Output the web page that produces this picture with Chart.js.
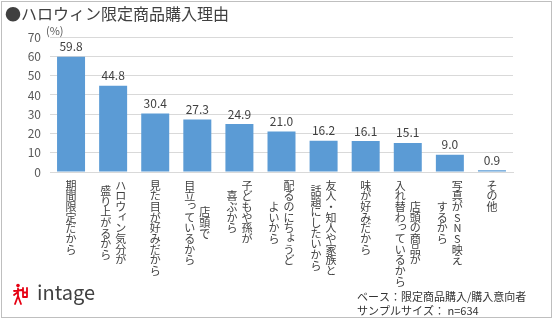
<!DOCTYPE html>
<html><head><meta charset="utf-8">
<script src="https://cdn.jsdelivr.net/npm/chart.js@4/dist/chart.umd.min.js"></script>
<style>html,body{margin:0;padding:0;background:#fff}#wrap{width:555px;height:321px;position:relative}</style>
</head><body><div id="wrap"><canvas id="c" width="555" height="321"></canvas></div>
<script>
const chartTitle = "●ハロウィン限定商品購入理由";
const categories = ["期間限定だから","ハロウィン気分が盛り上がるから","見た目が好みだから","店頭で目立っているから","子どもや孫が喜ぶから","配るのにちょうどよいから","友人・知人や家族と話題にしたいから","味が好みだから","店頭の商品が入れ替わっているから","写真がSNS映えするから","その他"];
const labelColumns = [
 ["期間限定だから"],
 ["ハロウィン気分が","盛り上がるから"],
 ["見た目が好みだから"],
 ["店頭で","目立っているから"],
 ["子どもや孫が","喜ぶから"],
 ["配るのにちょうど","よいから"],
 ["友人・知人や家族と","話題にしたいから"],
 ["味が好みだから"],
 ["店頭の商品が","入れ替わっているから"],
 ["写真がSNS映え","するから"],
 ["その他"]
];
const values = [59.8,44.8,30.4,27.3,24.9,21.0,16.2,16.1,15.1,9.0,0.9];
const yTicks = [0,10,20,30,40,50,60,70];
const unitLabel = "(%)";
const brandName = "intage";
const noteLines = ["ベース：限定商品購入/購入意向者","サンプルサイズ： n=634"];

const FONT = "'Noto Sans CJK JP','Noto Sans',sans-serif";
const smallKana = "ァィゥェォッャュョぁぃぅぇぉっゃゅょ";

const extras = {
  id:'extras',
  beforeDraw(chart){
    const ctx = chart.ctx;
    ctx.save();
    ctx.strokeStyle = '#bfbfbf';
    ctx.lineWidth = 1;
    ctx.strokeRect(1.5,1.5,550,316);
    ctx.restore();
  },
  afterDatasetsDraw(chart){
    const ctx = chart.ctx;
    const x = chart.scales.x, y = chart.scales.y;
    const meta = chart.getDatasetMeta(0);
    ctx.save();
    // data labels
    ctx.fillStyle = '#404040';
    ctx.font = "12px " + FONT;
    ctx.textAlign = 'center';
    ctx.textBaseline = 'bottom';
    meta.data.forEach((bar,i)=>{
      ctx.fillText(values[i].toFixed(1), bar.x, bar.y - 4);
    });
    // unit label
    ctx.font = "11px " + FONT;
    ctx.fillStyle = '#595959';
    ctx.textAlign = 'left';
    ctx.textBaseline = 'middle';
    ctx.fillText(unitLabel, chart.chartArea.left - 4, y.getPixelForValue(70) - 6);
    // vertical category labels
    ctx.font = "11px " + FONT;
    ctx.fillStyle = '#404040';
    ctx.textAlign = 'center';
    ctx.textBaseline = 'middle';
    const pitch = 10.7, colGap = 15;
    const y0 = chart.chartArea.bottom + 8;
    labelColumns.forEach((cols,i)=>{
      const cx = x.getPixelForValue(i);
      const n = cols.length;
      const L = Math.max(...cols.map(c=>[...c].length));
      cols.forEach((col,j)=>{
        const chars = [...col];
        const colX = cx + ((n-1)/2 - j)*colGap;
        const start = y0 + (L - chars.length)*pitch/2;
        chars.forEach((ch,k)=>{
          let dx = 0, dy = 0;
          if (smallKana.includes(ch)) { dx = 2; dy = -2; }
          ctx.fillText(ch, colX + dx, start + (k+0.5)*pitch + dy);
        });
      });
    });
    // logo mark
    ctx.strokeStyle = '#e60012';
    ctx.fillStyle = '#e60012';
    ctx.lineWidth = 1.8;
    ctx.lineCap = 'round';
    ctx.beginPath();
    ctx.arc(18, 285.5, 1.8, 0, Math.PI*2);
    ctx.fill();
    ctx.beginPath();
    ctx.moveTo(14,291); ctx.lineTo(22,290);
    ctx.moveTo(18,288.5); ctx.lineTo(18,296);
    ctx.moveTo(18,296); ctx.lineTo(15,304);
    ctx.moveTo(18,296); ctx.lineTo(21,304);
    ctx.moveTo(14,295); ctx.lineTo(18,292);
    ctx.moveTo(23,288); ctx.lineTo(23,297);
    ctx.moveTo(27,288); ctx.lineTo(27,297);
    ctx.moveTo(23,297); ctx.lineTo(27,297);
    ctx.moveTo(23,292.5); ctx.lineTo(27,292.5);
    ctx.stroke();
    ctx.fillStyle = '#404040';
    ctx.font = "20px " + FONT;
    ctx.textAlign = 'left';
    ctx.textBaseline = 'alphabetic';
    ctx.fillText(brandName, 37, 300);
    // notes
    ctx.font = "11px " + FONT;
    ctx.fillStyle = '#333333';
    ctx.textBaseline = 'middle';
    ctx.fillText(noteLines[0], 357, 297);
    ctx.fillText(noteLines[1], 357, 311);
    ctx.restore();
  }
};

new Chart(document.getElementById('c'), {
  type:'bar',
  data:{
    labels: categories,
    datasets:[{data: values, backgroundColor:'#5b9bd5', borderWidth:0, barPercentage:0.665, categoryPercentage:1}]
  },
  options:{
    responsive:false, animation:false,
    layout:{padding:{left:5,top:3,right:42,bottom:0}},
    plugins:{
      legend:{display:false},
      tooltip:{enabled:false},
      title:{display:true, text:chartTitle, align:'start', color:'#404040',
        font:{size:16, family:FONT, weight:'normal'}, padding:{top:1,bottom:14}}
    },
    scales:{
      x:{
        grid:{display:false, drawTicks:false},
        border:{display:true, color:'#d9d9d9'},
        ticks:{display:false},
        afterFit(s){ s.height = 149; }
      },
      y:{
        min:0, max:70,
        afterBuildTicks(s){ s.ticks = yTicks.map(v=>({value:v})); },
        grid:{color:'#d9d9d9', drawTicks:false},
        border:{display:false},
        ticks:{padding:9, color:'#595959', font:{size:12, family:FONT}},
        afterFit(s){ s.width = 45; }
      }
    }
  },
  plugins:[extras]
});
</script></body></html>
